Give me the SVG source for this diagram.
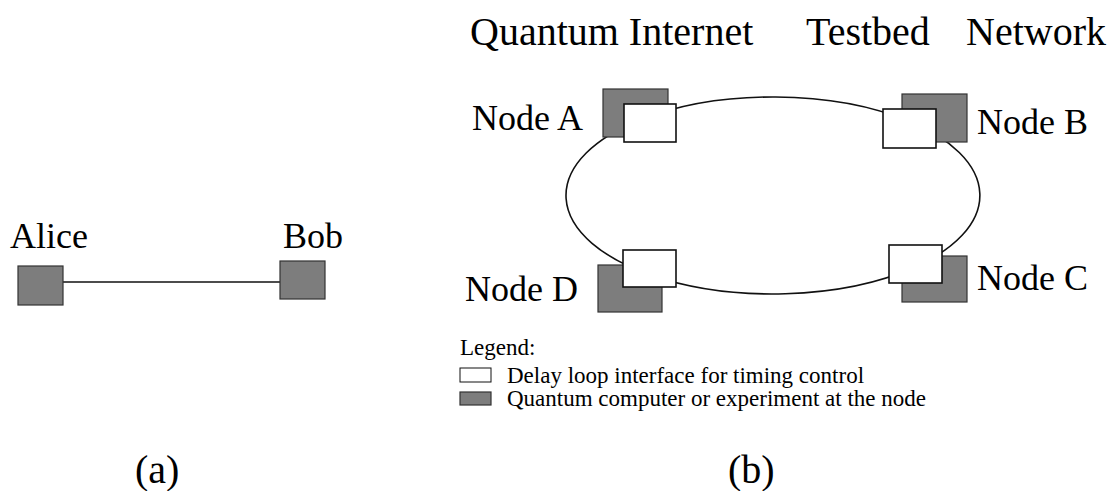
<svg xmlns="http://www.w3.org/2000/svg" width="1108" height="491" viewBox="0 0 1108 491">
<style>
text{font-family:"Liberation Serif","Times New Roman",serif;fill:#000}
.lbl{font-size:36px}
.title{font-size:40px}
.cap{font-size:40px}
.leg{font-size:23px}
.dark{fill:#7d7d7d;stroke:#333;stroke-width:1.2}
.white{fill:#fff;stroke:#111;stroke-width:1.6}
.wire{fill:none;stroke:#111;stroke-width:1.6}
</style>
<rect width="1108" height="491" fill="#fff"/>
<g id="connectors">
<line class="wire" x1="63" y1="282" x2="280" y2="282"/>
<path class="wire" d="M640,120 A207,98.5 0 0 1 910,121.6"/>
<path class="wire" d="M910,121.6 A207,98.5 0 0 1 915,267"/>
<path class="wire" d="M915,267 A207,98.5 0 0 1 650,274.7"/>
<path class="wire" d="M650,274.7 A207,98.5 0 0 1 640,120"/>
</g>
<g id="alice">
<rect class="dark" x="18" y="266" width="45" height="39"/>
<text class="lbl" x="10" y="248">Alice</text>
</g>
<g id="bob">
<rect class="dark" x="280" y="261" width="45" height="38"/>
<text class="lbl" x="283" y="248">Bob</text>
</g>
<g id="title">
<text class="title" x="470" y="45">Quantum Internet</text>
<text class="title" x="806" y="45">Testbed</text>
<text class="title" x="966" y="45">Network</text>
</g>
<g id="nodeA">
<rect class="dark" x="603" y="89" width="65" height="48"/>
<rect class="white" x="624" y="104" width="52" height="38"/>
<text class="lbl" x="472" y="130">Node A</text>
</g>
<g id="nodeB">
<rect class="dark" x="902" y="94" width="65" height="48"/>
<rect class="white" x="883" y="109" width="53" height="39"/>
<text class="lbl" x="977" y="134">Node B</text>
</g>
<g id="nodeC">
<rect class="dark" x="902" y="256" width="65" height="46"/>
<rect class="white" x="889" y="245" width="53" height="38"/>
<text class="lbl" x="977" y="290">Node C</text>
</g>
<g id="nodeD">
<rect class="dark" x="598" y="265" width="64" height="47"/>
<rect class="white" x="623" y="250" width="53" height="37"/>
<text class="lbl" x="465" y="301">Node D</text>
</g>
<g id="legend">
<text class="leg" x="460" y="355">Legend:</text>
<rect class="white" x="460" y="368" width="31" height="14" style="stroke-width:1"/>
<text class="leg" x="507" y="383">Delay loop interface for timing control</text>
<rect class="dark" x="460" y="392" width="31" height="13"/>
<text class="leg" x="507" y="406">Quantum computer or experiment at the node</text>
</g>
<text class="cap" x="135" y="483">(a)</text>
<text class="cap" x="728" y="483">(b)</text>
</svg>
